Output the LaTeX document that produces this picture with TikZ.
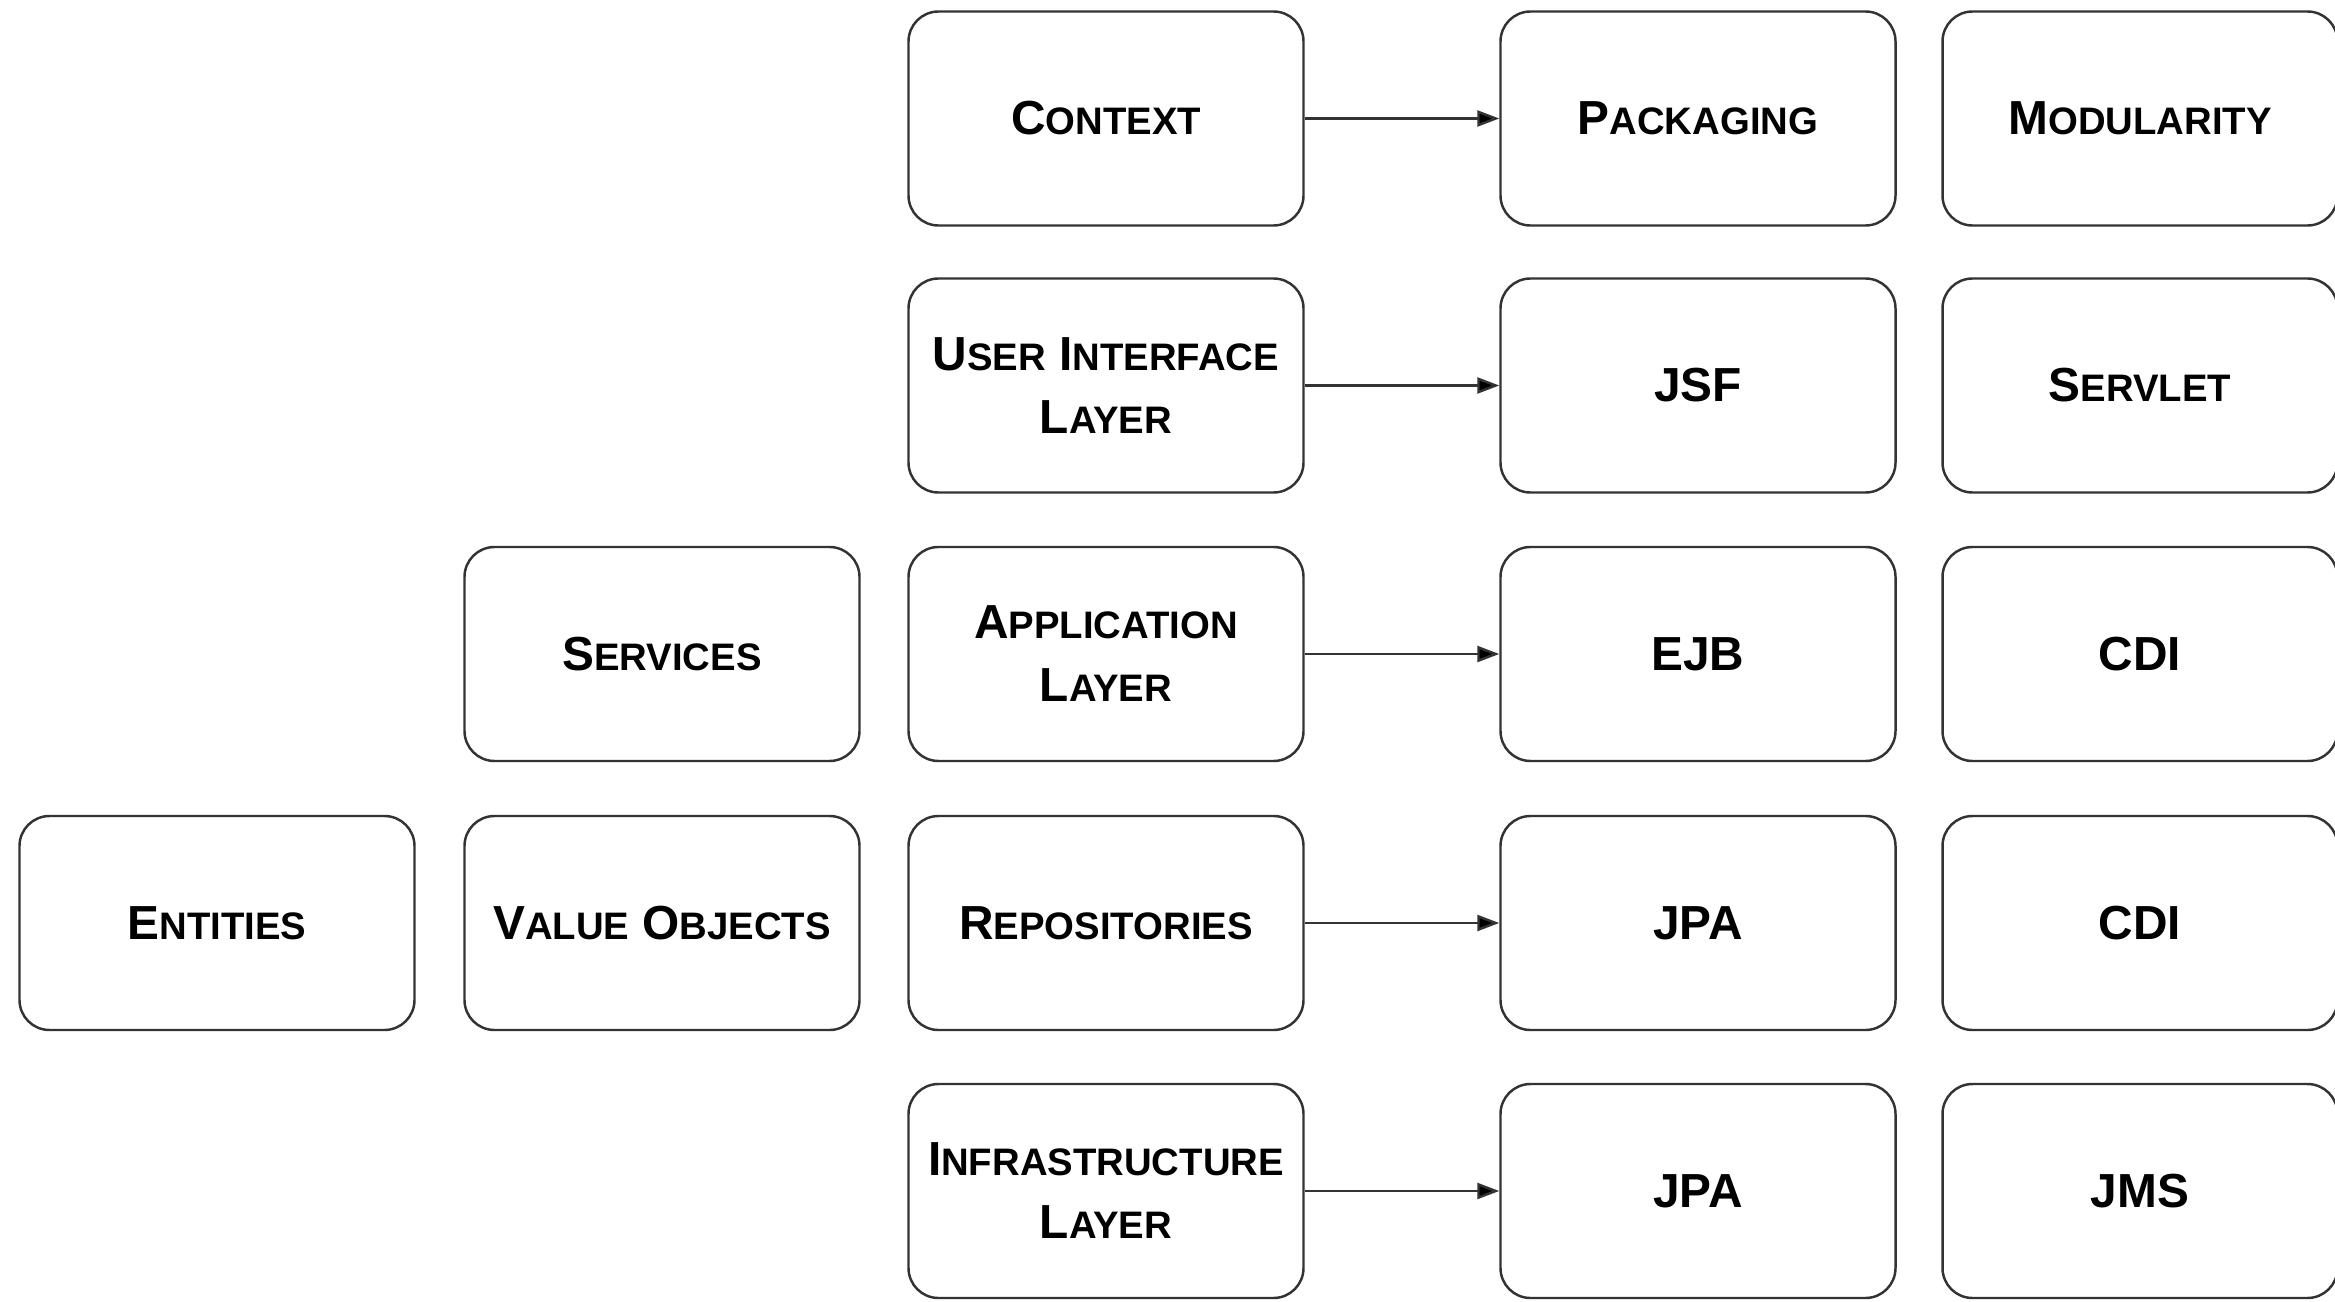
\documentclass[tikz,border=0pt]{standalone}
\usepackage{fontspec}
\setmainfont{Liberation Sans}
\usetikzlibrary{arrows.meta}
\newcommand\scx[2]{{\fontsize{13.6pt}{17.9pt}\selectfont #1}{\fontsize{10.9pt}{17.9pt}\selectfont #2}}
\begin{document}
\begin{tikzpicture}[x=1cm,y=1cm,
  box/.style={draw=black!80, line width=0.7pt, rounded corners=0.3cm, minimum width=3.95cm, minimum height=2.14cm, inner sep=0pt, align=center, font=\bfseries\fontsize{13.6pt}{17.9pt}\selectfont, fill=white},
  conn/.style={draw=black!80, line width=0.7pt, -{Triangle[length=2.2mm,width=1.6mm,fill=black]}, shorten >=0pt}]
\useasboundingbox (0,0) rectangle (23.35,-13.02);
\def\ya{-1.185}\def\yb{-3.855}\def\yc{-6.54}\def\yd{-9.23}\def\ye{-11.91}
\def\xa{2.17}\def\xb{6.62}\def\xc{11.06}\def\xd{16.98}\def\xe{21.40}
% row 1
\node[box] (context) at (\xc,\ya) {\scx{C}{ONTEXT}};
\node[box] (packaging) at (\xd,\ya) {\scx{P}{ACKAGING}};
\node[box] (modularity) at (\xe,\ya) {\scx{M}{ODULARITY}};
% row 2
\node[box] (ui) at (\xc,\yb) {\scx{U}{SER} \scx{I}{NTERFACE}\\\scx{L}{AYER}};
\node[box] (jsf) at (\xd,\yb) {JSF};
\node[box] (servlet) at (\xe,\yb) {\scx{S}{ERVLET}};
% row 3
\node[box] (services) at (\xb,\yc) {\scx{S}{ERVICES}};
\node[box] (app) at (\xc,\yc) {\scx{A}{PPLICATION}\\\scx{L}{AYER}};
\node[box] (ejb) at (\xd,\yc) {EJB};
\node[box] (cdia) at (\xe,\yc) {CDI};
% row 4
\node[box] (entities) at (\xa,\yd) {\scx{E}{NTITIES}};
\node[box] (vo) at (\xb,\yd) {\scx{V}{ALUE} \scx{O}{BJECTS}};
\node[box] (repo) at (\xc,\yd) {\scx{R}{EPOSITORIES}};
\node[box] (jpaa) at (\xd,\yd) {JPA};
\node[box] (cdib) at (\xe,\yd) {CDI};
% row 5
\node[box] (infra) at (\xc,\ye) {\scx{I}{NFRASTRUCTURE}\\\scx{L}{AYER}};
\node[box] (jpab) at (\xd,\ye) {JPA};
\node[box] (jms) at (\xe,\ye) {JMS};
% connectors
\draw[conn] (context) -- (packaging);
\draw[conn] (ui) -- (jsf);
\draw[conn] (app) -- (ejb);
\draw[conn] (repo) -- (jpaa);
\draw[conn] (infra) -- (jpab);
\end{tikzpicture}
\end{document}
